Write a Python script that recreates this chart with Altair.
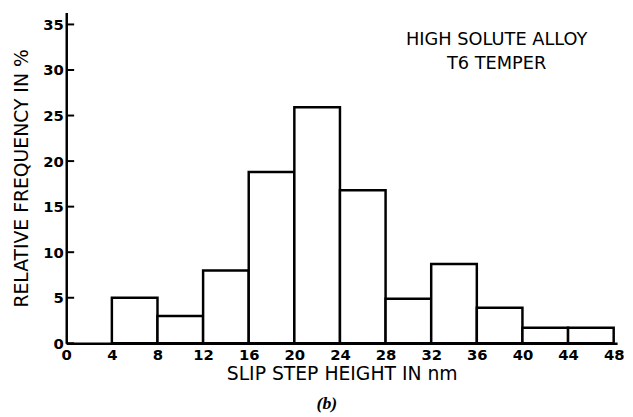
import altair as alt
import pandas as pd

bin_start = [4, 8, 12, 16, 20, 24, 28, 32, 36, 40, 44]
bin_end = [8, 12, 16, 20, 24, 28, 32, 36, 40, 44, 48]
freq = [5.0, 3.0, 8.0, 18.8, 25.9, 16.8, 4.9, 8.7, 3.9, 1.7, 1.7]
x_ticks = [0, 4, 8, 12, 16, 20, 24, 28, 32, 36, 40, 44, 48]
y_ticks = [0, 5, 10, 15, 20, 25, 30, 35]
note_line1 = "HIGH SOLUTE ALLOY"
note_line2 = "T6 TEMPER"
panel_label = "(b)"

bars = pd.DataFrame({"start": bin_start, "end": bin_end, "freq": freq})
ticks = pd.DataFrame({"y": y_ticks})

FONT = "DejaVu Sans"
xs = alt.Scale(domain=[0, 48.3], nice=False, zero=False)
ys = alt.Scale(domain=[0, 36.3], nice=False)

bar = alt.Chart(bars).mark_bar(fill="white", stroke="black", strokeWidth=2.5).encode(
    x=alt.X("start:Q", scale=xs, title="SLIP STEP HEIGHT IN nm",
            axis=alt.Axis(values=x_ticks, ticks=False, grid=False, labelPadding=4,
                          domainColor="black", domainWidth=2.5, labelFont=FONT,
                          labelFontSize=15, labelFontWeight="bold", labelColor="black",
                          titleFont=FONT, titleFontSize=19, titleFontWeight="normal",
                          titleColor="black", titlePadding=3, labelFlush=False)),
    x2="end:Q",
    y=alt.Y("freq:Q", scale=ys, title="RELATIVE FREQUENCY IN %",
            axis=alt.Axis(values=y_ticks, ticks=False, grid=False, labelPadding=3,
                          domainColor="black", domainWidth=2.5, labelFont=FONT,
                          labelFontSize=15, labelFontWeight="bold", labelColor="black",
                          titleFont=FONT, titleFontSize=19, titleFontWeight="normal",
                          titleColor="black", titlePadding=11, labelFlush=False)),
    y2=alt.datum(0),
)

tick_marks = alt.Chart(ticks).mark_rule(color="black", strokeWidth=2).encode(
    y=alt.Y("y:Q", scale=ys),
    x=alt.value(0),
    x2=alt.value(8),
)

def text_layer(txt, x, y, **kw):
    return alt.Chart(pd.DataFrame({"t": [txt]})).mark_text(
        color="black", align="center", baseline="middle", **kw
    ).encode(text="t:N", x=alt.value(x), y=alt.value(y))

note1 = text_layer(note_line1, 436, 28, font=FONT, fontSize=18)
note2 = text_layer(note_line2, 436, 52, font=FONT, fontSize=18)
label_b = text_layer(panel_label, 264, 397, font="Liberation Serif", fontSize=18,
                     fontStyle="italic", fontWeight="bold")

chart = alt.layer(bar, tick_marks, note1, note2, label_b).properties(
    width=558, height=335,
    padding={"left": 59, "top": 2, "right": 8, "bottom": 72},
    autosize=alt.AutoSizeParams(type="none"),
).configure_view(stroke=None)

chart.save("out.html", embed_options={"renderer": "svg", "actions": False})
